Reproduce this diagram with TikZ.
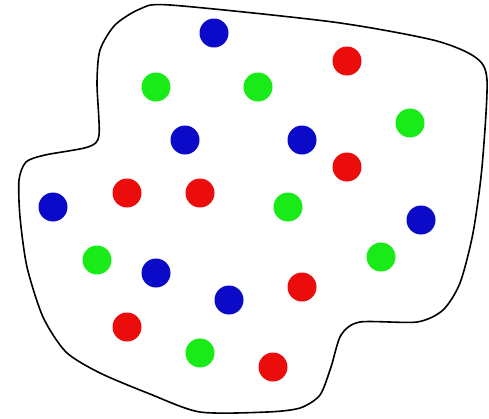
\documentclass[tikz,border=0pt]{standalone}
\definecolor{dblue}{RGB}{10,10,200}
\definecolor{dred}{RGB}{235,12,12}
\definecolor{dgreen}{RGB}{25,235,25}
\tikzset{
  dot/.style={circle, inner sep=0pt, minimum size=29pt, draw=none},
  bdot/.style={dot, fill=dblue},
  rdot/.style={dot, fill=dred},
  gdot/.style={dot, fill=dgreen},
  outline/.style={draw=black, line width=1.6pt, line join=round}
}
\begin{document}
\begin{tikzpicture}[x=1pt,y=-1pt]
\useasboundingbox (0,0) rectangle (489,418);
\draw[outline] plot[smooth cycle, tension=0.45] coordinates {
  (170,5) (333,22) (433,40) (475,57) (487,80) (482,167) (473,233) (460,283) (443,310) (417,322)
  (360,322) (341,335) (331,367) (320,395) (300,408) (267,412) (200,412)
  (150,394) (100,373) (66,352) (43,317) (27,267) (20,217) (19,180) (26,162) (45,155)
  (88,147) (99,135) (97,83) (100,50) (115,25) (140,9)};
% blue
\node[bdot] (b1) at (214,33) {};
\node[bdot] (b2) at (185,140) {};
\node[bdot] (b3) at (302,140) {};
\node[bdot] (b4) at (53,207) {};
\node[bdot] (b5) at (421,220) {};
\node[bdot] (b6) at (156,273) {};
\node[bdot] (b7) at (229,300) {};
% red
\node[rdot] (r1) at (347,61) {};
\node[rdot] (r2) at (347,167) {};
\node[rdot] (r3) at (127,193) {};
\node[rdot] (r4) at (200,193) {};
\node[rdot] (r5) at (302,287) {};
\node[rdot] (r6) at (127,327) {};
\node[rdot] (r7) at (273,367) {};
% green
\node[gdot] (g1) at (156,87) {};
\node[gdot] (g2) at (258,87) {};
\node[gdot] (g3) at (410,123) {};
\node[gdot] (g4) at (288,207) {};
\node[gdot] (g5) at (97,260) {};
\node[gdot] (g6) at (381,257) {};
\node[gdot] (g7) at (200,353) {};
\end{tikzpicture}
\end{document}
